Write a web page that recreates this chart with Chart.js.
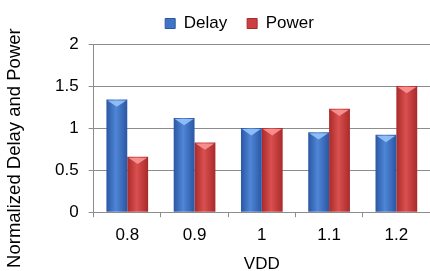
<!DOCTYPE html>
<html>
<head>
<meta charset="utf-8">
<script src="https://cdn.jsdelivr.net/npm/chart.js@4/dist/chart.umd.min.js"></script>
<style>
  html, body { margin: 0; padding: 0; background: #fff; }
  #wrap { width: 430px; height: 271px; position: relative; }
</style>
</head>
<body>
<div id="wrap"><canvas id="grafico"></canvas></div>
<script>
// datos
var vdd = ['0.8', '0.9', '1', '1.1', '1.2'];
var delay = [1.34, 1.12, 1.0, 0.95, 0.92];
var power = [0.66, 0.83, 1.0, 1.23, 1.50];
var yTicks = [0, 0.5, 1, 1.5, 2];
var tituloY = 'Normalized Delay and Power';

var fuente = 'Liberation Sans, Arial, sans-serif';
var catPct = 0.62;
var azul = ['#2b56a3', '#4f86d6', '#2b56a3'];
var rojo = ['#a92a2a', '#d9504f', '#a92a2a'];

// degradado horizontal por barra
function degradado(colores) {
    return function (c) {
        var chart = c.chart;
        var x = chart.scales.x;
        if (!x || c.dataIndex === undefined) return colores[1];
        var cat = x.width / vdd.length;
        var w = cat * catPct / 2;
        var centro = x.getPixelForValue(c.dataIndex) + (c.datasetIndex === 0 ? -w / 2 : w / 2);
        var g = chart.ctx.createLinearGradient(centro - w / 2, 0, centro + w / 2, 0);
        g.addColorStop(0, colores[0]);
        g.addColorStop(0.45, colores[1]);
        g.addColorStop(1, colores[2]);
        return g;
    };
}

// triangulo claro arriba de cada barra (efecto 3D)
var biselPlugin = {
    id: 'bisel',
    afterDatasetsDraw: function (chart) {
        var ctx = chart.ctx;
        var luz = ['rgba(150,195,250,0.9)', 'rgba(250,150,150,0.9)'];
        chart.data.datasets.forEach(function (ds, i) {
            chart.getDatasetMeta(i).data.forEach(function (bar) {
                var w = bar.width;
                ctx.save();
                ctx.fillStyle = luz[i];
                ctx.beginPath();
                ctx.moveTo(bar.x - w / 2 + 1, bar.y + 1);
                ctx.lineTo(bar.x + w / 2 - 1, bar.y + 1);
                ctx.lineTo(bar.x, bar.y + w * 0.35);
                ctx.closePath();
                ctx.fill();
                ctx.restore();
            });
        });
    }
};

// mueve la leyenda (el original no esta centrado en el canvas)
var moverLeyenda = {
    id: 'moverLeyenda',
    afterLayout: function (chart) {
        var l = chart.legend;
        if (!l) return;
        l.left += 1; l.right += 1;
        l.top -= 2; l.bottom -= 2;
    }
};

// titulo del eje Y, algo mas abajo que el centro del area
var tituloPlugin = {
    id: 'tituloY',
    afterDraw: function (chart) {
        var ctx = chart.ctx;
        var a = chart.chartArea;
        ctx.save();
        ctx.translate(15, (a.top + a.bottom) / 2 + 20);
        ctx.rotate(-Math.PI / 2);
        ctx.fillStyle = '#000';
        ctx.font = '18.5px ' + fuente;
        ctx.textAlign = 'center';
        ctx.textBaseline = 'middle';
        ctx.fillText(tituloY, 0, 0);
        ctx.restore();
    }
};

var ctx = document.getElementById('grafico').getContext('2d');
var grafico = new Chart(ctx, {
    type: 'bar',
    data: {
        labels: vdd,
        datasets: [
            { label: 'Delay', data: delay, backgroundColor: degradado(azul), borderWidth: 0,
              barPercentage: 1, categoryPercentage: catPct },
            { label: 'Power', data: power, backgroundColor: degradado(rojo), borderWidth: 0,
              barPercentage: 1, categoryPercentage: catPct }
        ]
    },
    plugins: [biselPlugin, moverLeyenda, tituloPlugin],
    options: {
        responsive: true,
        maintainAspectRatio: false,
        animation: false,
        layout: { padding: { left: 45, right: -2, top: -3, bottom: -4 } },
        plugins: {
            tooltip: { enabled: false },
            legend: {
                position: 'top',
                labels: {
                    color: '#000',
                    font: { family: fuente, size: 17 },
                    boxWidth: 10, boxHeight: 10, padding: 20,
                    generateLabels: function (chart) {
                        return [
                            { text: 'Delay', fillStyle: '#3f74c6', strokeStyle: '#2b56a3', lineWidth: 1, datasetIndex: 0 },
                            { text: 'Power', fillStyle: '#cc4040', strokeStyle: '#a92a2a', lineWidth: 1, datasetIndex: 1 }
                        ];
                    }
                }
            }
        },
        scales: {
            x: {
                offset: true,
                grid: { display: true, offset: true, drawOnChartArea: false, drawTicks: true,
                        tickLength: 5, color: '#8c8c8c' },
                border: { display: true, color: '#8c8c8c', width: 1 },
                ticks: { color: '#000', font: { family: fuente, size: 17 }, padding: 8 },
                title: { display: true, text: 'VDD', color: '#000', padding: { top: 1, bottom: 0 },
                         font: { family: fuente, size: 17 } }
            },
            y: {
                min: 0, max: 2,
                afterBuildTicks: function (axis) {
                    axis.ticks = yTicks.map(function (v) { return { value: v }; });
                },
                grid: { color: '#8c8c8c', tickLength: 5, lineWidth: 1 },
                border: { display: true, color: '#8c8c8c' },
                ticks: { color: '#000', font: { family: fuente, size: 17 }, padding: 10,
                         callback: function (v) { return String(v); } }
            }
        }
    }
});
</script>
</body>
</html>
